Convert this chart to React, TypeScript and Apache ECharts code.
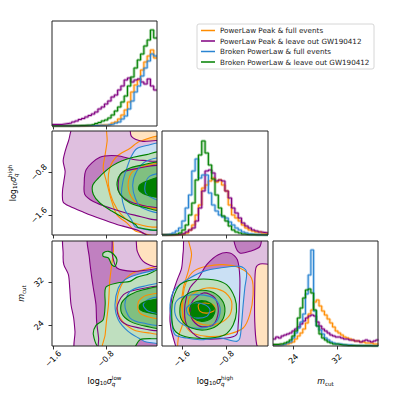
import React, { useEffect, useRef } from "react";
import * as echarts from "echarts";

// ---------- names ----------
const seriesNames = [
  "PowerLaw Peak & full events",
  "PowerLaw Peak & leave out GW190412",
  "Broken PowerLaw & full events",
  "Broken PowerLaw & leave out GW190412",
];

// ---------- axis ranges & ticks ----------
const lowRange = [-1.62, -0.02];
const highRangeX = [-1.96, -0.04];
const highRangeY = [-1.965, -0.03];
const mRange = [20.2, 39.6];
const sigmaTicks = [-1.6, -0.8];
const mTicks = [24, 32];

// ---------- 1D histograms ----------
const lowBinStart = -1.62;
const lowBinWidth = 0.05;
const histLowOrange = [0,0,0,0,0,0,0,0,0,0,0.3,0.3,0.5,0.5,0.8,1,1,1.5,3,4,7,11,16,24,34,41,46,56,64,70,76,68];
const histLowPurple = [1.5,1.5,1.5,2,2.5,3,4,5,6.5,7.5,9,10.5,12,14,17,19,22,25,29,31,36,40,46,48,44,46,47,44,42,47,40,36];
const histLowBlue = [0,0,0,0,0,0,0,0,0,0.3,0.3,0.5,0.5,0.5,0.8,0.8,1,1.5,2,3,4,7,10,17,25,34,40,50,58,65,72,70];
const histLowGreen = [0,0,0,0,0,0,0.3,0.3,0.5,0.5,0.8,1,1.5,2.5,3.5,5,6,8,11,15,19,24,30,40,49,58,66,72,80,86,96,88];

const highBinStart = -1.96;
const highBinWidth = 0.06;
const histHighOrange = [0,0,0,0,0.3,0.5,1,2,5,10,20,30,47,50,54,57,53,55,50,44,30,20,17,14,10,7,5,4,3,3,2,1.5];
const histHighPurple = [0,0,0,0.3,0.5,1,1.5,3,5,7,14,27,44,64,65,62,54,55,54,44,37,27,22,17,12,9,7,5,4,3,2.5,2];
const histHighBlue = [0,0.5,1,2,4,7,14,27,40,64,76,57,60,60,42,30,24,20,18,17,13,10,7,5,3,2,1,0.5,0.3,0.2,0,0];
const histHighGreen = [0,0,0.3,0.5,1,2,5,10,20,32,55,80,94,82,70,56,40,27,19,14,9,5,3,2,1,0.5,0.3,0.2,0,0,0,0];

const mBinStart = 20.2;
const mBinWidth = 0.5;
const histMOrange = [1,1,1.5,1.5,2,2,3,4,7,10,13,17,23,32,36,44,46,40,35,31,27,23,19,15,13,11,9,8,7,6,5,5,4,4,3,3,3,2,2];
const histMPurple = [7,9,8,10,11,12,13,15,17,19,22,25,28,30,31,30,24,20,17,15,13,11,10,9,9,8,7,7,6,6,5,5,4,5,6,5,4,5,6];
const histMBlue = [1,1,1,1.5,2,3,4,8,13,18,24,32,52,71,96,35,20,16,12,8,6,4,3,2,2,1.5,1,1,1,0.5,0.5,0.5,0.3,0.3,0.3,0.2,0.2,0.2,0.2];
const histMGreen = [1.5,1.5,2,2,3,4,6,10,15,28,38,48,56,57,53,36,20,12,8,6,4,3,2,2,1.5,1,1,0.5,0.5,0.5,0.3,0.3,0.3,0.2,0.2,0.2,0,0,0];

// ---------- 2D contours: panel (sigma_low, sigma_high) ----------
const c10Orange1 = [[-0.76,0.09],[-0.78,-0.22],[-0.81,-0.47],[-0.84,-0.72],[-0.79,-0.97],[-0.71,-1.34],[-0.63,-1.59],[-0.48,-1.74],[-0.33,-1.9],[0.05,-1.93],[0.05,0.09]];
const c10Orange2 = [[0.05,-0.16],[-0.28,-0.22],[-0.43,-0.35],[-0.63,-0.5],[-0.74,-0.72],[-0.76,-1.03],[-0.69,-1.34],[-0.56,-1.59],[-0.38,-1.74],[0.05,-1.77]];
const c10Orange3 = [[0.05,-0.66],[-0.23,-0.69],[-0.41,-0.81],[-0.46,-1.06],[-0.38,-1.31],[-0.2,-1.43],[0.05,-1.46]];
const c10Purple1 = [[-1.27,0.09],[-0.46,0.09],[-0.41,-0.13],[-0.25,-0.22],[0.05,-0.25],[0.05,-2.05],[-0.33,-1.87],[-0.63,-1.77],[-0.89,-1.66],[-1.14,-1.54],[-1.35,-1.43],[-1.45,-1.35],[-1.46,-1.15],[-1.44,-0.97],[-1.42,-0.78],[-1.45,-0.59],[-1.42,-0.41],[-1.37,-0.22]];
const c10Purple2 = [[-0.89,-0.52],[-0.63,-0.49],[-0.38,-0.56],[-0.13,-0.59],[0.05,-0.63],[0.05,-1.65],[-0.38,-1.59],[-0.74,-1.46],[-0.99,-1.34],[-1.12,-1.21],[-1.13,-1.03],[-1.1,-0.75]];
const c10Purple3 = [[-0.56,-0.81],[-0.33,-0.73],[0.05,-0.7],[0.05,-1.42],[-0.38,-1.37],[-0.58,-1.21],[-0.61,-1.0]];
const c10Blue1 = [[0.05,-0.28],[-0.18,-0.3],[-0.33,-0.36],[-0.41,-0.5],[-0.48,-0.72],[-0.54,-0.97],[-0.56,-1.21],[-0.51,-1.49],[-0.41,-1.68],[-0.34,-1.82],[0.05,-1.83]];
const c10Blue2 = [[0.05,-0.56],[-0.18,-0.59],[-0.33,-0.78],[-0.39,-1.03],[-0.35,-1.28],[-0.25,-1.46],[0.05,-1.52]];
const c10Blue3 = [[0.05,-0.84],[-0.13,-0.87],[-0.2,-1.03],[-0.18,-1.21],[0.05,-1.31]];
const c10Green1 = [[0.05,-0.44],[-0.18,-0.47],[-0.38,-0.52],[-0.56,-0.59],[-0.69,-0.67],[-0.81,-0.78],[-0.91,-0.9],[-1.0,-1.04],[-0.99,-1.21],[-0.89,-1.37],[-0.71,-1.52],[-0.51,-1.66],[-0.35,-1.77],[-0.3,-1.83],[0.05,-1.83]];
const c10Green2 = [[0.05,-0.63],[-0.23,-0.66],[-0.43,-0.72],[-0.58,-0.84],[-0.63,-1.03],[-0.58,-1.21],[-0.43,-1.37],[-0.18,-1.46],[0.05,-1.49]];
const c10Green3 = [[0.05,-0.9],[-0.13,-0.94],[-0.28,-1.03],[-0.3,-1.12],[-0.2,-1.21],[0.05,-1.25]];

// ---------- 2D contours: panel (sigma_low, m_cut) ----------
const c20Orange1 = [[-0.66,40.77],[-0.685,37.69],[-0.71,35.23],[-0.74,32.14],[-0.76,27.83],[-0.79,24.75],[-0.81,22.29],[-0.84,19.21],[0.08,19.21],[0.08,40.77]];
const c20Orange2 = [[0.08,34.61],[-0.23,34.3],[-0.43,33.38],[-0.56,31.53],[-0.63,28.45],[-0.58,25.37],[-0.38,23.21],[-0.13,22.59],[0.08,22.59]];
const c20Orange3 = [[0.08,29.68],[-0.18,29.56],[-0.3,28.45],[-0.3,26.6],[-0.18,25.67],[0.08,25.37]];
const c20Purple1 = [[-1.42,40.77],[-0.38,40.77],[-0.32,37.69],[-0.23,35.84],[-0.075,34.92],[0.08,34.73],[0.08,19.21],[-1.25,19.21],[-1.27,22.9],[-1.29,25.37],[-1.33,27.83],[-1.35,30.91],[-1.37,33.38],[-1.44,35.23],[-1.45,37.07]];
const c20Purple2 = [[-1.07,40.77],[-0.73,40.77],[-0.7,37.07],[-0.63,34.61],[-0.38,33.99],[-0.13,34.3],[0.08,34.3],[0.08,19.21],[-0.89,19.21],[-0.91,21.67],[-0.94,24.75],[-0.95,27.83],[-0.99,30.91],[-1.02,33.38],[-1.05,36.46]];
const c20Purple3 = [[0.08,30.91],[-0.33,30.6],[-0.53,29.68],[-0.63,27.22],[-0.56,24.75],[-0.33,23.64],[0.08,23.4]];
const c20Blue1 = [[0.08,34.3],[-0.13,33.99],[-0.33,33.38],[-0.51,32.45],[-0.61,30.91],[-0.66,27.83],[-0.61,25.06],[-0.46,22.9],[-0.3,21.67],[-0.18,20.93],[0.08,21.05]];
const c20Blue2 = [[0.08,31.53],[-0.23,31.22],[-0.43,30.3],[-0.51,27.83],[-0.43,25.37],[-0.23,24.44],[0.08,24.26]];
const c20Blue3 = [[0.08,29.06],[-0.13,28.94],[-0.23,27.83],[-0.15,26.6],[0.08,26.29]];
const c20Green1 = [[0.08,34.3],[-0.18,33.38],[-0.33,32.88],[-0.43,32.14],[-0.63,31.84],[-0.8,31.04],[-0.81,27.83],[-0.84,25.06],[-0.95,24.01],[-0.99,22.29],[-0.89,19.82],[-0.38,19.82],[-0.28,21.36],[-0.02,21.55],[0.08,21.55]];
const c20GreenIsland = [[-0.84,37.38],[-0.76,37.69],[-0.685,37.2],[-0.63,36.15],[-0.66,34.92],[-0.71,35.23],[-0.76,36.46],[-0.84,36.77]];
const c20Green2 = [[0.08,30.91],[-0.23,30.6],[-0.43,29.68],[-0.56,28.14],[-0.56,26.29],[-0.43,24.75],[-0.18,23.83],[0.08,23.64]];
const c20Green3 = [[0.08,28.76],[-0.13,28.63],[-0.28,27.83],[-0.28,26.91],[-0.13,26.29],[0.08,26.11]];

// ---------- 2D contours: panel (sigma_high, m_cut) ----------
const c21Orange1 = [[-1.455,40.77],[0.06,40.77],[0.06,19.21],[-1.635,19.21],[-1.665,21.67],[-1.575,24.75],[-1.605,27.83],[-1.575,30.91],[-1.485,33.99],[-1.425,37.07]];
const c21Orange2 = [[-1.39,33.99],[-1.15,34.92],[-0.85,35.23],[-0.55,34.61],[-0.34,32.76],[-0.31,29.68],[-0.37,25.98],[-0.49,23.52],[-0.79,22.29],[-1.15,21.98],[-1.455,22.9],[-1.575,25.37],[-1.575,29.68],[-1.515,32.14]];
const c21Orange3 = [[-1.425,29.68],[-1.15,30.91],[-0.85,30.3],[-0.7,28.45],[-0.73,25.98],[-0.91,24.44],[-1.21,24.13],[-1.425,25.37],[-1.485,27.83]];
const c21Orange4 = [[-1.3,27.83],[-1.18,28.14],[-1.03,27.83],[-1.0,26.91],[-1.12,26.29],[-1.27,26.6]];
const c21Purple1 = [[-1.515,40.77],[0.06,40.77],[0.06,35.53],[-0.185,35.35],[-0.26,34.61],[-0.28,30.91],[-0.28,24.75],[-0.245,20.44],[-0.185,19.21],[-1.635,19.21],[-1.755,21.67],[-1.815,24.75],[-1.785,29.06],[-1.695,32.14],[-1.605,34.61],[-1.575,37.69]];
const c21Purple2a = [[-0.64,40.77],[-0.185,40.77],[-0.185,38.61],[-0.37,37.69],[-0.55,37.38],[-0.64,38.92]];
const c21Purple2b = [[-1.3,32.76],[-1.15,35.23],[-0.94,37.07],[-0.73,37.38],[-0.595,36.15],[-0.55,32.76],[-0.56,27.83],[-0.58,24.13],[-0.61,22.29],[-0.79,21.67],[-1.27,21.67],[-1.515,24.13],[-1.545,27.83],[-1.455,30.91]];
const c21Purple3 = [[-1.21,29.99],[-1.0,29.06],[-0.94,26.6],[-1.03,24.13],[-1.27,23.83],[-1.425,25.37],[-1.425,28.14]];
const c21Blue1 = [[-1.635,31.53],[-1.455,32.76],[-1.21,33.99],[-0.91,34.61],[-0.55,34.92],[-0.43,33.99],[-0.46,30.91],[-0.49,27.83],[-0.52,24.13],[-0.55,21.67],[-0.61,21.05],[-0.91,21.67],[-1.27,21.36],[-1.515,21.67],[-1.725,22.29],[-1.785,24.75],[-1.815,27.83],[-1.755,30.3]];
const c21Blue2 = [[-1.725,27.83],[-1.635,29.06],[-1.39,29.68],[-1.09,29.37],[-0.94,28.14],[-0.91,26.29],[-1.0,24.44],[-1.24,23.52],[-1.515,23.83],[-1.695,25.37]];
const c21Blue3 = [[-1.515,27.22],[-1.39,28.14],[-1.18,27.83],[-1.09,26.91],[-1.15,25.67],[-1.36,25.37],[-1.485,25.98]];
const c21Green1 = [[-1.635,31.53],[-1.39,32.45],[-1.03,32.45],[-0.79,31.53],[-0.64,29.06],[-0.61,26.6],[-0.67,24.13],[-0.82,22.29],[-1.09,21.67],[-1.39,21.67],[-1.635,22.29],[-1.755,23.52],[-1.785,26.6],[-1.755,29.06]];
const c21Green2 = [[-1.575,29.06],[-1.39,30.3],[-1.09,30.3],[-0.88,28.76],[-0.82,26.6],[-0.91,24.44],[-1.15,23.21],[-1.425,23.52],[-1.605,25.06],[-1.635,27.22]];
const c21Green3 = [[-1.425,27.83],[-1.27,28.57],[-1.09,28.14],[-1.0,26.91],[-1.06,25.37],[-1.24,24.75],[-1.39,25.37],[-1.455,26.6]];

// ---------- styles ----------
const COLORS = ["#ff8c00", "#800080", "#2a84d2", "#008000"];
const LEVEL_ALPHA = [0.25, 0.5, 1, 1];

function tint(hex: string, a: number) {
  const n = parseInt(hex.slice(1), 16);
  const r = (n >> 16) & 255, g = (n >> 8) & 255, b = n & 255;
  const m = (c: number) => Math.round(255 - (255 - c) * a);
  return `rgb(${m(r)},${m(g)},${m(b)})`;
}

// layout of the six panels (grid index order)
const GRIDS = [
  { left: 52, top: 21, width: 105, height: 105 },   // 0: hist sigma_low
  { left: 52, top: 131, width: 105, height: 104 },  // 1: low vs high
  { left: 52, top: 241, width: 105, height: 105 },  // 2: low vs m
  { left: 162, top: 131, width: 106, height: 104 }, // 3: hist sigma_high
  { left: 162, top: 241, width: 106, height: 105 }, // 4: high vs m
  { left: 273, top: 241, width: 105, height: 105 }, // 5: hist m
];

// contour table (axis index, series, level, points, filled)
const contours: { ax: number; s: number; lvl: number; pts: number[][]; fill: boolean }[] = [
  { ax: 1, s: 0, lvl: 0, pts: c10Orange1, fill: true },
  { ax: 1, s: 0, lvl: 1, pts: c10Orange2, fill: true },
  { ax: 1, s: 0, lvl: 2, pts: c10Orange3, fill: true },
  { ax: 1, s: 1, lvl: 0, pts: c10Purple1, fill: true },
  { ax: 1, s: 1, lvl: 1, pts: c10Purple2, fill: true },
  { ax: 1, s: 1, lvl: 2, pts: c10Purple3, fill: true },
  { ax: 1, s: 2, lvl: 0, pts: c10Blue1, fill: true },
  { ax: 1, s: 2, lvl: 1, pts: c10Blue2, fill: true },
  { ax: 1, s: 2, lvl: 2, pts: c10Blue3, fill: true },
  { ax: 1, s: 3, lvl: 0, pts: c10Green1, fill: true },
  { ax: 1, s: 3, lvl: 1, pts: c10Green2, fill: true },
  { ax: 1, s: 3, lvl: 2, pts: c10Green3, fill: true },

  { ax: 2, s: 0, lvl: 0, pts: c20Orange1, fill: true },
  { ax: 2, s: 0, lvl: 1, pts: c20Orange2, fill: true },
  { ax: 2, s: 0, lvl: 2, pts: c20Orange3, fill: true },
  { ax: 2, s: 1, lvl: 0, pts: c20Purple1, fill: true },
  { ax: 2, s: 1, lvl: 1, pts: c20Purple2, fill: true },
  { ax: 2, s: 1, lvl: 2, pts: c20Purple3, fill: true },
  { ax: 2, s: 2, lvl: 0, pts: c20Blue1, fill: true },
  { ax: 2, s: 2, lvl: 1, pts: c20Blue2, fill: true },
  { ax: 2, s: 2, lvl: 2, pts: c20Blue3, fill: true },
  { ax: 2, s: 3, lvl: 0, pts: c20Green1, fill: true },
  { ax: 2, s: 3, lvl: 0, pts: c20GreenIsland, fill: true },
  { ax: 2, s: 3, lvl: 1, pts: c20Green2, fill: true },
  { ax: 2, s: 3, lvl: 2, pts: c20Green3, fill: true },

  { ax: 4, s: 0, lvl: 0, pts: c21Orange1, fill: true },
  { ax: 4, s: 0, lvl: 1, pts: c21Orange2, fill: true },
  { ax: 4, s: 0, lvl: 2, pts: c21Orange3, fill: true },
  { ax: 4, s: 0, lvl: 3, pts: c21Orange4, fill: false },
  { ax: 4, s: 1, lvl: 0, pts: c21Purple1, fill: true },
  { ax: 4, s: 1, lvl: 1, pts: c21Purple2a, fill: true },
  { ax: 4, s: 1, lvl: 1, pts: c21Purple2b, fill: true },
  { ax: 4, s: 1, lvl: 2, pts: c21Purple3, fill: true },
  { ax: 4, s: 2, lvl: 0, pts: c21Blue1, fill: true },
  { ax: 4, s: 2, lvl: 1, pts: c21Blue2, fill: true },
  { ax: 4, s: 2, lvl: 2, pts: c21Blue3, fill: true },
  { ax: 4, s: 3, lvl: 0, pts: c21Green1, fill: true },
  { ax: 4, s: 3, lvl: 1, pts: c21Green2, fill: true },
  { ax: 4, s: 3, lvl: 2, pts: c21Green3, fill: true },
];

const hists = [
  { ax: 0, start: lowBinStart, width: lowBinWidth, sets: [histLowOrange, histLowPurple, histLowBlue, histLowGreen] },
  { ax: 3, start: highBinStart, width: highBinWidth, sets: [histHighOrange, histHighPurple, histHighBlue, histHighGreen] },
  { ax: 5, start: mBinStart, width: mBinWidth, sets: [histMOrange, histMPurple, histMBlue, histMGreen] },
];

const FONT = "DejaVu Sans";
const sigmaFmt = (v: number) => (v < 0 ? "\u2212" : "") + Math.abs(v).toFixed(1);
const mFmt = (v: number) => String(Math.round(v));

function axisCfg(gridIndex: number, range: number[], ticks: number[] | null, labels: boolean, fmt: any) {
  if (!ticks) {
    return { type: "value", gridIndex, min: range[0], max: range[1], show: false };
  }
  return {
    type: "value",
    gridIndex,
    min: range[0],
    max: range[1],
    axisLine: { show: false },
    splitLine: { show: false },
    axisTick: { show: true, inside: false, length: 3.5, customValues: ticks, lineStyle: { color: "#000", width: 0.8 } },
    axisLabel: {
      show: labels,
      customValues: ticks,
      rotate: 45,
      margin: 13,
      align: "center",
      verticalAlign: "middle",
      fontSize: 8,
      color: "#000",
      fontFamily: FONT,
      formatter: fmt,
    },
  };
}

function txt(text: string, x: number, y: number, size: number, italic = false) {
  return {
    type: "text",
    x,
    y,
    style: {
      text,
      fontSize: size,
      fontFamily: FONT,
      fontStyle: italic ? "italic" : "normal",
      fill: "#000",
      align: "left",
      verticalAlign: "middle",
      textAlign: "left",
      textVerticalAlign: "middle",
    },
  };
}

function sigmaLabel(sup: string, cx: number, cy: number, vertical: boolean) {
  const wLog = 12.2, w10 = 7.1, wSig = 5.0;
  const wSup = sup === "low" ? 9.6 : 12.2;
  const total = wLog + w10 + wSig + wSup;
  const x0 = -total / 2;
  return {
    type: "group",
    x: cx,
    y: cy,
    rotation: vertical ? Math.PI / 2 : 0,
    children: [
      txt("log", x0, 0, 8),
      txt("10", x0 + wLog, 2, 5.6),
      txt("\u03c3", x0 + wLog + w10, 0, 8, true),
      txt("q", x0 + wLog + w10 + wSig, 2.6, 5.6, true),
      txt(sup, x0 + wLog + w10 + wSig, -3.4, 5.6),
    ],
  };
}

function mLabel(cx: number, cy: number, vertical: boolean) {
  const wM = 7.8, wSub = 8.8;
  const x0 = -(wM + wSub) / 2;
  return {
    type: "group",
    x: cx,
    y: cy,
    rotation: vertical ? Math.PI / 2 : 0,
    children: [txt("m", x0, 0, 8, true), txt("cut", x0 + wM, 2.2, 5.6)],
  };
}

function buildOption() {
  const xAxis = [
    axisCfg(0, lowRange, sigmaTicks, false, sigmaFmt),
    axisCfg(1, lowRange, sigmaTicks, false, sigmaFmt),
    axisCfg(2, lowRange, sigmaTicks, true, sigmaFmt),
    axisCfg(3, highRangeX, sigmaTicks, false, sigmaFmt),
    axisCfg(4, highRangeX, sigmaTicks, true, sigmaFmt),
    axisCfg(5, mRange, mTicks, true, mFmt),
  ];
  const yAxis = [
    axisCfg(0, [0, 105], null, false, null),
    axisCfg(1, highRangeY, sigmaTicks, true, sigmaFmt),
    axisCfg(2, mRange, mTicks, true, mFmt),
    axisCfg(3, [0, 104], null, false, null),
    axisCfg(4, mRange, mTicks, false, mFmt),
    axisCfg(5, [0, 105], null, false, null),
  ];
  const ranges: Record<number, number[][]> = {
    1: [lowRange, highRangeY],
    2: [lowRange, mRange],
    4: [highRangeX, mRange],
  };

  const series: any[] = [];
  const polySeries = (c: any, mode: "fill" | "line") => {
    const [rx, ry] = ranges[c.ax];
    const anchor = [(rx[0] + rx[1]) / 2, (ry[0] + ry[1]) / 2];
    const color = COLORS[c.s];
    return {
      type: "custom",
      coordinateSystem: "cartesian2d",
      xAxisIndex: c.ax,
      yAxisIndex: c.ax,
      clip: true,
      silent: true,
      z: mode === "fill" ? 2 : 3,
      data: [anchor],
      renderItem: (params: any, api: any) => ({
        type: "polygon",
        shape: { points: c.pts.map((p: number[]) => api.coord(p)), smooth: 0.3 },
        style:
          mode === "fill"
            ? { fill: tint(color, LEVEL_ALPHA[c.lvl]), stroke: "none" }
            : { fill: "none", stroke: color, lineWidth: 1.1 },
      }),
    };
  };
  contours.filter((c) => c.fill).forEach((c) => series.push(polySeries(c, "fill")));
  contours.forEach((c) => series.push(polySeries(c, "line")));

  hists.forEach((h) => {
    h.sets.forEach((vals, s) => {
      const pts = vals.map((v, i) => [h.start + i * h.width, v]);
      pts.push([h.start + vals.length * h.width, vals[vals.length - 1]]);
      series.push({
        type: "line",
        xAxisIndex: h.ax,
        yAxisIndex: h.ax,
        data: pts,
        step: "end",
        symbol: "none",
        silent: true,
        clip: true,
        z: 2,
        lineStyle: { color: COLORS[s], width: 3, opacity: 0.3 },
      });
      series.push({
        type: "line",
        name: seriesNames[s],
        xAxisIndex: h.ax,
        yAxisIndex: h.ax,
        data: pts,
        step: "end",
        symbol: "none",
        silent: true,
        clip: true,
        z: 3,
        lineStyle: { color: COLORS[s], width: 1.1 },
      });
    });
  });

  const graphic: any[] = [];
  GRIDS.forEach((g) => {
    graphic.push({
      type: "rect",
      z: 100,
      silent: true,
      shape: { x: g.left, y: g.top, width: g.width, height: g.height },
      style: { fill: "none", stroke: "#222", lineWidth: 1 },
    });
  });
  // legend
  const lgX = 197, lgY = 24, lgW = 177, lgH = 45;
  graphic.push({
    type: "rect",
    z: 100,
    shape: { x: lgX, y: lgY, width: lgW, height: lgH, r: 2 },
    style: { fill: "#fff", stroke: "#cccccc", lineWidth: 0.8 },
  });
  seriesNames.forEach((n, i) => {
    const yy = lgY + 6.5 + i * 10.5;
    graphic.push({
      type: "line",
      z: 101,
      shape: { x1: lgX + 4, y1: yy, x2: lgX + 18, y2: yy },
      style: { stroke: COLORS[i], lineWidth: 1.5 },
    });
    graphic.push({
      type: "text",
      z: 101,
      x: lgX + 23,
      y: yy,
      style: {
        text: n,
        fontSize: 7.2,
        fontFamily: FONT,
        fill: "#222",
        align: "left",
        verticalAlign: "middle",
        textAlign: "left",
        textVerticalAlign: "middle",
      },
    });
  });
  // axis titles
  graphic.push(sigmaLabel("low", 104.5, 381, false));
  graphic.push(sigmaLabel("high", 215, 381, false));
  graphic.push(mLabel(325.5, 381.5, false));
  graphic.push(sigmaLabel("high", 13, 183, true));
  graphic.push(mLabel(21.5, 293.5, true));

  return {
    animation: false,
    backgroundColor: "#fff",
    textStyle: { fontFamily: FONT },
    grid: GRIDS.map((g) => ({ ...g, containLabel: false })),
    xAxis,
    yAxis,
    series,
    graphic,
  };
}

export default function App() {
  const ref = useRef<HTMLDivElement>(null);
  useEffect(() => {
    if (!ref.current) return;
    const chart = echarts.init(ref.current, null, { renderer: "svg" });
    chart.setOption(buildOption() as any);
    return () => chart.dispose();
  }, []);
  return (
    <div
      ref={ref}
      style={{ position: "fixed", left: 0, top: 0, width: 399, height: 399, background: "#fff" }}
    />
  );
}
